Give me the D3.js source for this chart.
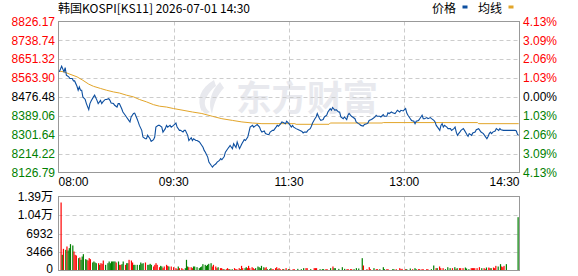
<!DOCTYPE html>
<html>
<head>
<meta charset="utf-8">
<script src="https://cdn.jsdelivr.net/npm/d3@7"></script>
<style>
body { margin: 0; background: #fff; }
svg { display: block; font-family: "Liberation Sans", Arial, sans-serif; }
</style>
</head>
<body>
<div id="chart"></div>
<script>
// axis labels
const priceLabels = ["8826.17","8738.74","8651.32","8563.90","8476.48","8389.06","8301.64","8214.22","8126.79"];
const pctLabels = ["4.13%","3.09%","2.06%","1.03%","0.00%","1.03%","2.06%","3.09%","4.13%"];
const timeLabels = ["08:00","09:30","11:30","13:00","14:30"];
const volLabels = ["1.39万","1.04万","6932","3466","0"];
const priceMin = 8126.79, priceMax = 8826.17;
const volMax = 13864;
const totalMinutes = 390;

// [minute, price]
const priceSeries = [
[0,8593],[2,8619],[4,8593],[5,8613],[6,8578],[8,8570],[9,8562],[11,8562],[12,8551],[13,8551],[15,8526],[16,8508],[17,8523],[18,8508],[19,8508],[20,8477],[22,8465],[23,8446],[25,8418],[26,8446],[27,8458],[29,8477],[30,8485],[32,8461],[33,8446],[35,8461],[36,8446],[37,8454],[39,8465],[40,8465],[42,8469],[43,8461],[44,8449],[46,8446],[47,8438],[49,8430],[50,8446],[51,8446],[53,8422],[54,8407],[56,8392],[57,8384],[59,8368],[60,8361],[61,8384],[63,8400],[64,8402],[66,8376],[67,8361],[68,8345],[70,8322],[71,8291],[73,8283],[74,8283],[75,8299],[77,8283],[78,8271],[80,8279],[81,8291],[82,8337],[84,8345],[85,8345],[87,8337],[88,8314],[90,8330],[91,8345],[92,8337],[94,8345],[95,8337],[97,8345],
[99,8356],[100,8337],[102,8322],[103,8322],[105,8314],[106,8322],[107,8322],[109,8299],[110,8275],[112,8288],[113,8275],[114,8283],[116,8275],[117,8275],[119,8268],[120,8260],[122,8244],[123,8229],[124,8221],[126,8198],[127,8175],[129,8159],[130,8152],[131,8159],[133,8167],[134,8175],[136,8183],[137,8191],[138,8186],[140,8201],[141,8221],[143,8237],[144,8244],[145,8252],[147,8237],[148,8260],[150,8242],[151,8268],[153,8237],[154,8248],[155,8260],[157,8279],[158,8275],[160,8291],[161,8314],[162,8337],[164,8345],[165,8337],[167,8345],[168,8349],[170,8337],[171,8322],[172,8314],[174,8319],[175,8307],[177,8303],[178,8303],[179,8314],[181,8322],[182,8322],[184,8337],[185,8345],[186,8341],[188,8353],[189,8361],[191,8356],[192,8353],[193,8364],[195,8353],[196,8345],
[197,8337],[198,8345],[199,8337],[201,8330],[203,8325],[204,8322],[206,8317],[207,8310],[208,8314],[210,8314],[211,8322],[213,8330],[214,8341],[215,8356],[217,8376],[218,8384],[219,8400],[220,8387],[221,8376],[222,8368],[224,8372],[225,8384],[227,8392],[228,8407],[230,8422],[231,8415],[232,8428],[234,8415],[235,8418],[237,8407],[238,8407],[239,8384],[241,8376],[242,8384],[244,8372],[245,8392],[246,8400],[248,8387],[249,8384],[251,8376],[252,8361],[254,8353],[255,8350],[256,8345],[258,8342],[259,8349],[261,8353],[262,8356],[263,8368],[265,8372],[266,8376],[268,8384],[269,8392],[270,8387],[272,8387],[273,8384],[275,8395],[276,8387],[278,8387],[279,8403],[280,8400],[282,8407],[283,8403],[285,8400],[286,8407],[287,8415],[289,8407],[290,8415],[292,8412],[293,8418],[294,8423],
[295,8402],[296,8392],[298,8376],[299,8368],[301,8364],[302,8353],[303,8364],[305,8368],[306,8376],[308,8392],[309,8376],[310,8376],[312,8381],[313,8376],[315,8381],[316,8376],[318,8368],[319,8361],[320,8345],[322,8330],[323,8322],[324,8345],[325,8353],[326,8337],[327,8345],[329,8337],[330,8330],[332,8330],[333,8322],[335,8330],[336,8337],[337,8314],[338,8299],[339,8307],[340,8314],[341,8322],[343,8330],[344,8322],[346,8303],[347,8294],[348,8307],[350,8299],[351,8310],[353,8314],[354,8325],[356,8330],[357,8322],[358,8314],[360,8307],[361,8299],[363,8283],[364,8294],[365,8307],[366,8314],[367,8307],[368,8314],[370,8319],[371,8330],[373,8322],[374,8330],[375,8325],[377,8322],[379,8322],[381,8322],[384,8322],[387,8322],[388,8319],[389,8303],[390,8299]
];

// [minute, average price]
const avgSeries = [
[0,8596],[4,8593],[9,8582],[15,8570],[20,8554],[25,8536],[29,8526],[35,8516],[40,8508],[46,8500],[51,8495],[57,8485],[63,8477],[68,8465],[74,8454],[80,8441],[85,8434],[91,8430],[97,8423],[105,8415],[113,8407],[121,8400],[130,8387],[138,8376],[147,8368],[155,8361],[164,8356],[172,8353],[200,8353],[201,8350],[229,8350],[230,8356],[274,8356],[275,8358],[355,8358],[356,8353],[390,8353]
];

// [minute, volume, up(1)/down(0)]
const volumeSeries = [
[0,12740,1],[1,2940,0],[2,4060,1],[4,3870,0],[5,4500,1],[6,3750,0],[7,4190,0],[8,4940,0],[10,4690,0],[11,3560,1],[12,2940,1],[13,2810,1],[15,2310,0],[16,2440,1],[17,2000,0],[18,2620,0],[19,3060,0],[21,2120,0],[22,2000,0],[23,1870,1],[24,2310,1],[25,2120,1],[27,1500,0],[28,1690,0],[29,1500,0],[30,1370,0],[32,1370,1],[33,1060,0],[34,1370,1],[35,1250,1],[36,1870,1],[38,1060,0],[40,1370,0],[41,1690,0],[42,1370,0],[43,1690,0],[44,1690,0],[45,1690,0],[46,1690,0],[47,1500,1],[49,1690,0],[50,1060,1],[51,1060,1],[52,1190,0],[53,1690,0],[55,1060,1],[56,1370,0],[57,1370,0],[58,2000,1],[60,1870,1],[61,1500,1],[62,1060,0],[63,1060,0],[65,1060,0],[67,1060,0],[68,1500,0],[69,1250,0],[70,1370,0],[72,1500,1],[74,1060,0],[75,1060,0],[76,1250,0],[77,1060,0],[79,750,1],[80,1060,1],[81,1370,1],[82,1060,1],[84,620,1],[85,870,0],[86,750,0],[87,440,1],[88,750,1],[90,1060,1],[91,870,1],[92,750,0],[94,750,1],
[96,620,1],[98,440,1],[99,250,1],[100,750,0],[101,440,1],[103,440,1],[104,250,1],[106,440,0],[107,2000,0],[108,750,0],[109,620,1],[111,620,1],[112,440,1],[113,750,0],[114,750,0],[116,620,0],[118,440,0],[119,620,0],[120,750,0],[121,1190,0],[123,1060,0],[124,870,0],[125,1060,0],[126,1250,0],[128,1370,0],[129,750,1],[130,1060,1],[132,750,1],[133,440,1],[134,620,0],[136,440,1],[137,440,1],[138,250,1],[139,250,0],[141,250,1],[142,440,1],[143,250,1],[144,250,0],[146,250,0],[148,440,1],[149,250,1],[150,250,1],[152,440,1],[153,250,0],[154,870,1],[155,440,1],[157,440,0],[158,620,0],[159,440,1],[160,870,1],[161,440,1],[163,620,1],[164,440,1],[165,250,1],[166,440,0],[168,750,0],[169,620,0],[170,440,0],[171,870,0],[173,620,0],[174,440,1],[175,620,1],[176,250,0],[178,250,0],[179,440,0],[180,250,1],[181,250,1],[183,440,1],[184,620,1],[185,250,0],[186,440,1],[187,250,1],[189,250,1],[190,250,0],[192,440,1],[194,250,0],[195,250,1],[198,250,1],[199,250,1],
[202,310,0],[205,250,0],[207,440,0],[209,440,1],[210,440,1],[213,250,0],[216,440,1],[217,440,1],[218,440,1],[221,250,0],[223,250,0],[224,250,0],[226,250,1],[227,250,1],[230,440,0],[232,750,1],[233,440,0],[234,440,0],[237,310,0],[240,620,0],[242,310,0],[244,250,1],[245,250,1],[247,250,1],[248,250,1],[250,250,0],[252,440,0],[254,375,0],[257,2310,0],[258,940,1],[261,250,1],[263,620,1],[264,250,1],[267,440,0],[269,250,1],[270,250,1],[272,250,0],[275,620,0],[276,250,0],[278,250,1],[279,250,1],[283,250,0],[284,250,0],[286,250,1],[289,440,1],[290,250,1],[291,310,1],[294,250,1],[295,250,0],[298,375,0],[300,250,1],[302,440,0],[303,250,0],[305,250,1],[306,250,1],[308,250,1],[309,250,1],[312,250,1],[313,250,1],[316,250,0],[318,940,0],[320,440,1],[321,440,0],[323,750,1],[324,440,1],[326,440,1],[328,250,0],[330,620,0],[332,440,0],[334,440,1],[336,620,0],[337,250,1],[338,440,0],[340,440,1],[341,440,1],[343,440,1],[345,560,0],[346,375,0],[348,250,0],[350,440,1],[351,440,1],[352,440,1],[353,440,1],[355,440,1],[357,620,1],[359,440,0],[361,440,1],[362,250,1],[363,560,0],[365,560,1],[366,440,1],[367,440,0],[369,560,1],[370,440,1],[371,870,1],[373,750,0],[375,1190,0],[376,750,1],[377,620,1],[378,870,1],[380,1190,0],[390,9990,0]
];

const width = 578, height = 276;
const L = 58.5, R = 519.5, T = 21.5, B = 172.5;
const VT = 196.5, VB = 270.5;
const red = "#ff0000", green = "#008000", blue = "#0d4fa0", orange = "#e2a52a";
const gridColor = "#cccccc", borderColor = "#999999";

const svg = d3.select("#chart").append("svg")
  .attr("width", width)
  .attr("height", height);

const x = d3.scaleLinear().domain([0, totalMinutes]).range([59.3, 518.7]);
const xv = d3.scaleLinear().domain([0, totalMinutes]).range([61, 518]);
const xq = d3.scaleLinear().domain([0, timeLabels.length - 1]).range([L, R]);
const y = d3.scaleLinear().domain([priceMin, priceMax]).range([B, T]);
const yv = d3.scaleLinear().domain([0, volMax]).range([VB, VT]);

const priceLevels = priceLabels.map(d => +d);
const volLevels = d3.range(volLabels.length).map(i => volMax * (volLabels.length - 1 - i) / (volLabels.length - 1));

const labelColor = i => i < 4 ? red : (i == 4 ? "#000" : green);

// title and legend
svg.append("text")
  .attr("x", 58).attr("y", 13)
  .attr("textLength", 192).attr("lengthAdjust", "spacingAndGlyphs")
  .style("font-size", "12px")
  .style("font-family", "'Noto Sans CJK SC', 'Liberation Sans', sans-serif")
  .text("韩国KOSPI[KS11] 2026-07-01 14:30");

const legend = [{name: "价格", c: blue, x: 432}, {name: "均线", c: orange, x: 478}];
legend.forEach(d => {
  svg.append("text").attr("x", d.x).attr("y", 13)
    .style("font-size", "12px")
    .style("font-family", "'Noto Sans CJK SC', sans-serif")
    .text(d.name);
  svg.append("rect").attr("x", d.x + 30.5).attr("y", 5.5).attr("width", 5).attr("height", 3)
    .style("fill", d.c);
});

// watermark
const wm = svg.append("g").style("fill", "#e8e9ee");
wm.append("path").attr("d", "M214,80 C200,88 196,100 202,112 C204,100 208,92 216,86 Z");
wm.append("path").attr("d", "M220,82 C210,92 208,104 212,114 C214,102 218,94 224,88 Z");
wm.append("path").attr("d", "M206,96 C198,104 200,110 206,114 L210,112 C204,108 204,102 206,96 Z");
wm.append("text").attr("x", 236).attr("y", 111)
  .style("font-size", "35px").style("font-weight", "bold")
  .style("font-family", "'Noto Sans CJK SC', sans-serif")
  .attr("textLength", 142).attr("lengthAdjust", "spacingAndGlyphs")
  .text("东方财富");

// grids
function grid(levels, ys, top, bottom) {
  svg.append("g").selectAll("line.h")
    .data(levels.slice(1, -1))
    .enter().append("line")
    .attr("x1", L).attr("x2", R)
    .attr("y1", d => Math.round(ys(d)) + 0.5)
    .attr("y2", d => Math.round(ys(d)) + 0.5)
    .style("stroke", gridColor).style("stroke-dasharray", "4,3");
  svg.append("g").selectAll("line.v")
    .data(d3.range(1, timeLabels.length - 1))
    .enter().append("line")
    .attr("x1", d => Math.round(xq(d)) + 0.5).attr("x2", d => Math.round(xq(d)) + 0.5)
    .attr("y1", top).attr("y2", bottom)
    .style("stroke", gridColor).style("stroke-dasharray", "4,3");
  svg.append("rect")
    .attr("x", L).attr("y", top).attr("width", R - L).attr("height", bottom - top)
    .style("fill", "none").style("stroke", borderColor);
}
grid(priceLevels, y, T, B);
grid(volLevels, yv, VT, VB);

// price and average lines
const line = d3.line().x(d => x(d[0])).y(d => y(d[1]));
svg.append("path").datum(avgSeries).attr("d", line)
  .style("fill", "none").style("stroke", orange).style("stroke-width", 1);
svg.append("path").datum(priceSeries).attr("d", line)
  .style("fill", "none").style("stroke", blue).style("stroke-width", 1.1);

// volume bars
svg.append("g").selectAll("rect.vol")
  .data(volumeSeries)
  .enter().append("rect")
  .attr("class", "vol")
  .attr("x", d => xv(d[0]) - 0.5)
  .attr("width", 1.2)
  .attr("y", d => yv(d[1]))
  .attr("height", d => VB - 0.5 - yv(d[1]))
  .style("fill", d => d[2] ? red : green);

// left price labels
svg.append("g").selectAll("text")
  .data(priceLabels)
  .enter().append("text")
  .attr("x", 55).attr("y", d => y(+d))
  .attr("dy", "0.35em")
  .attr("text-anchor", "end")
  .style("font-size", "12px")
  .style("fill", (d, i) => labelColor(i))
  .text(d => d);

// right percent labels
svg.append("g").selectAll("text")
  .data(pctLabels)
  .enter().append("text")
  .attr("x", 523).attr("y", (d, i) => y(priceLevels[i]))
  .attr("dy", "0.35em")
  .style("font-size", "12px")
  .style("fill", (d, i) => labelColor(i))
  .text(d => d);

// time labels
svg.append("g").selectAll("text")
  .data(timeLabels)
  .enter().append("text")
  .attr("x", (d, i) => xq(i))
  .attr("y", 186)
  .attr("text-anchor", (d, i) => i == 0 ? "start" : (i == timeLabels.length - 1 ? "end" : "middle"))
  .style("font-size", "12px")
  .text(d => d);

// volume labels (bottom one nudged up so it stays inside the picture)
svg.append("g").selectAll("text")
  .data(volLabels)
  .enter().append("text")
  .attr("x", 53).attr("y", (d, i) => Math.min(yv(volLevels[i]), 268.5))
  .attr("dy", "0.35em")
  .attr("text-anchor", "end")
  .style("font-size", "12px")
  .style("font-family", "'Liberation Sans', 'Noto Sans CJK SC', sans-serif")
  .text(d => d);
</script>
</body>
</html>
